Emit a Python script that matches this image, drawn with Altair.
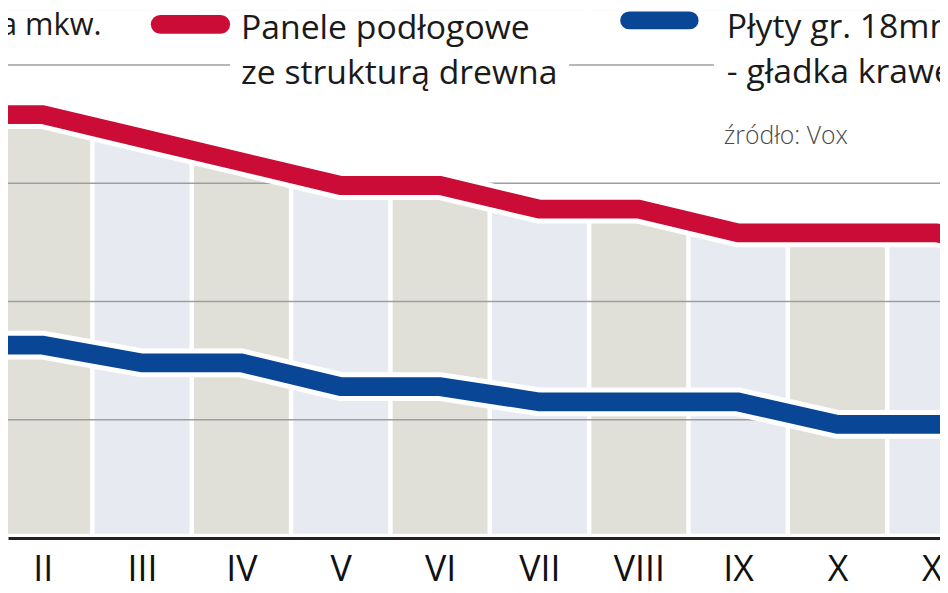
import altair as alt
import pandas as pd

# ---- data ----
months = list(range(1, 13))
month_labels = ["I", "II", "III", "IV", "V", "VI", "VII", "VIII", "IX", "X", "XI", "XII"]
panele = [35.8, 35.8, 33.8, 31.8, 29.8, 29.8, 27.8, 27.8, 25.8, 25.8, 25.8, 24.0]
plyty = [16.3, 16.3, 14.8, 14.8, 12.8, 12.8, 11.5, 11.5, 11.5, 9.6, 9.6, 9.6]
grid_values = [10, 20, 30, 40]
visible_months = months[1:11]
series_keys = ["panele", "plyty"]
series_names = ["Panele podłogowe\nze strukturą drewna", "Płyty gr. 18mm\n- gładka krawędź"]
title_text = "a mkw."
source_text = "źródło: Vox"

# ---- styling ----
RED = "#cb0c36"
BLUE = "#0a4696"
COL_EVEN = "#e1e0d8"
COL_ODD = "#e8eaf2"
GRID = "#9e9e9e"
FONT = "Open Sans"

W, H = 940, 532
X_DOMAIN = [1.6507, 11.032]
Y_DOMAIN = [0, 44.6]

df = pd.DataFrame({"m": months, "label": month_labels, "panele": panele, "plyty": plyty})

xs = alt.Scale(domain=X_DOMAIN, nice=False, zero=False)
ys = alt.Scale(domain=Y_DOMAIN, nice=False, zero=False)

label_expr = "[" + ",".join("'" + l + "'" for l in [""] + month_labels) + "][datum.value]"

base = alt.Chart(df)

cols = base.transform_calculate(
    x0="datum.m - 0.4775",
    x1="datum.m + 0.4775",
    par="datum.m % 2 == 0 ? 'even' : 'odd'",
    bot="0.35",
    top=str(Y_DOMAIN[1]),
).mark_rect(clip=True).encode(
    x=alt.X(
        "x0:Q",
        scale=xs,
        axis=alt.Axis(
            values=visible_months,
            labelExpr=label_expr,
            title=None,
            grid=False,
            ticks=False,
            domainColor="#222222",
            domainWidth=3,
            labelFont=FONT,
            labelFontSize=36,
            labelColor="#111111",
            labelPadding=15,
            labelOverlap=False,
            labelFlush=False,
            labelBound=False,
        ),
    ),
    x2="x1:Q",
    y=alt.Y("top:Q", scale=ys, axis=None),
    y2="bot:Q",
    color=alt.Color("par:N", scale=alt.Scale(domain=["even", "odd"], range=[COL_EVEN, COL_ODD]), legend=None),
)

white_area = base.transform_calculate(top=str(Y_DOMAIN[1])).mark_area(color="white", clip=True).encode(
    x=alt.X("m:Q", scale=xs),
    y=alt.Y("panele:Q", scale=ys),
    y2="top:Q",
)

grid = alt.Chart(pd.DataFrame({"v": grid_values})).mark_rule(color=GRID, strokeWidth=1.5).encode(
    y=alt.Y("v:Q", scale=ys)
)

long = base.transform_fold(series_keys, as_=["series", "value"])

casing = long.mark_line(color="white", strokeWidth=29, strokeJoin="miter", clip=True).encode(
    x=alt.X("m:Q", scale=xs),
    y=alt.Y("value:Q", scale=ys),
    detail="series:N",
)

lines = long.mark_line(strokeWidth=19, strokeJoin="miter", clip=True).encode(
    x=alt.X("m:Q", scale=xs),
    y=alt.Y("value:Q", scale=ys),
    color=alt.Color("series:N", scale=alt.Scale(domain=series_keys, range=[RED, BLUE]), legend=None),
)

one = pd.DataFrame({"k": [0]})

rect_red = alt.Chart(one).mark_rect(color="white").encode(
    x=alt.value(224), x2=alt.value(566), y=alt.value(40), y2=alt.value(70)
)
rect_blue = alt.Chart(one).mark_rect(color="white").encode(
    x=alt.value(712), x2=alt.value(940), y=alt.value(40), y2=alt.value(70)
)

sw_red = alt.Chart(one).mark_rule(color=RED, strokeWidth=19, strokeCap="round").encode(
    x=alt.value(153.5), x2=alt.value(214.5), y=alt.value(14)
)
sw_blue = alt.Chart(one).mark_rule(color=BLUE, strokeWidth=18, strokeCap="round").encode(
    x=alt.value(626.5), x2=alt.value(687.5), y=alt.value(10)
)

def text_layer(t, x, y, size, color="#1a1a1a", weight="normal", line_height=45):
    return alt.Chart(pd.DataFrame({"t": [t]})).mark_text(
        align="left", baseline="alphabetic", font=FONT, fontSize=size, color=color,
        fontWeight=weight, lineBreak="\n", lineHeight=line_height,
    ).encode(text="t:N", x=alt.value(x), y=alt.value(y))

txt_red = text_layer(series_names[0], 235, 29, 34)
txt_blue = text_layer(series_names[1], 725, 28, 34)
txt_title = text_layer(title_text, -8, 25, 31)
txt_source = text_layer(source_text, 722, 135, 25, color="#4a4a4a", weight=300)

chart = alt.layer(
    cols, white_area, grid, casing, lines,
    rect_red, rect_blue, sw_red, sw_blue,
    txt_red, txt_blue, txt_title, txt_source,
).resolve_scale(color="independent").properties(
    width=W,
    height=H,
    padding={"left": 0, "top": 0, "right": 0, "bottom": 53},
    autosize=alt.AutoSizeParams(type="none"),
).configure_view(stroke=None)

chart.save("out.html", embed_options={"renderer": "svg", "actions": False})
